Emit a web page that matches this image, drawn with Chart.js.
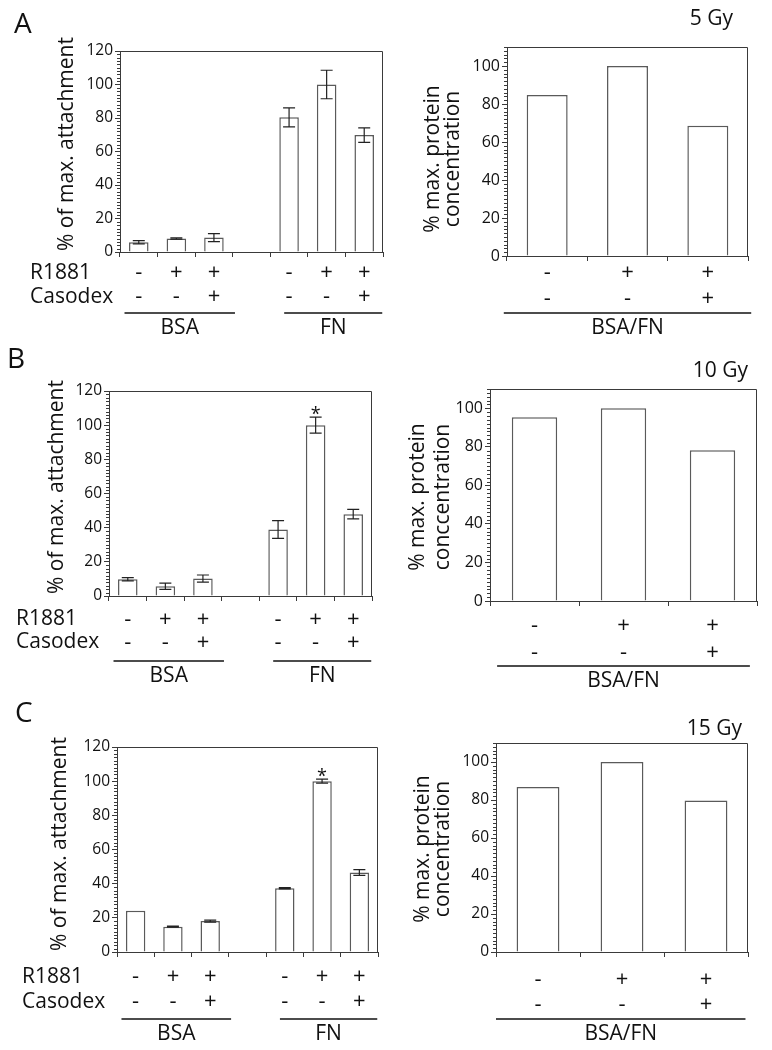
<!DOCTYPE html>
<html>
<head>
<meta charset="utf-8">
<script src="https://cdn.jsdelivr.net/npm/chart.js@4.4.1/dist/chart.umd.min.js"></script>
<style>
  body { margin: 0; background: #fff; width: 772px; height: 1050px; position: relative; overflow: hidden; }
  canvas { position: absolute; }
</style>
</head>
<body>
<canvas id="attA" width="400" height="340" style="left:0;top:0"></canvas>
<canvas id="protA" width="372" height="340" style="left:400px;top:0"></canvas>
<canvas id="attB" width="400" height="350" style="left:0;top:340px"></canvas>
<canvas id="protB" width="372" height="350" style="left:400px;top:340px"></canvas>
<canvas id="attC" width="400" height="360" style="left:0;top:690px"></canvas>
<canvas id="protC" width="372" height="360" style="left:400px;top:690px"></canvas>
<script>
// treatment rows (left panels: BSA x3, gap, FN x3)
const r1881 = ['-', '+', '+', '', '-', '+', '+'];
const casodex = ['-', '-', '+', '', '-', '-', '+'];
const r1881Prot = ['-', '+', '+'];
const casodexProt = ['-', '-', '+'];

// % of max. attachment, mean and error
const attach5 = [5.8, 8.0, 8.6, null, 80.4, 100, 69.8];
const attach5Err = [1.0, 0.4, 2.4, null, 5.7, 8.5, 4.3];
const attach10 = [9.8, 5.7, 10.2, null, 38.9, 100, 47.9];
const attach10Err = [1.0, 1.8, 2.1, null, 5.2, 4.7, 2.8];
const attach15 = [24.1, 14.8, 18.1, null, 37.3, 100, 46.5];
const attach15Err = [0, 0.3, 0.6, null, 0.4, 1.2, 1.7];
const sig5 = ['', '', '', '', '', '', ''];
const sig10 = ['', '', '', '', '', '*', ''];
const sig15 = ['', '', '', '', '', '*', ''];

// % max. protein concentration
const protein5 = [84.8, 100, 68.6];
const protein10 = [95.4, 100, 78.2];
const protein15 = [86.8, 100, 79.8];

const doses = ['5 Gy', '10 Gy', '15 Gy'];
const letters = ['A', 'B', 'C'];
const attachGroups = [{ name: 'BSA', from: 0, to: 2 }, { name: 'FN', from: 4, to: 6 }];
const protGroups = [{ name: 'BSA/FN', from: 0, to: 2 }];

const FONT = '"Open Sans", "Noto Sans", sans-serif';
const INK = '#111';
const AXIS = '#3a3a3a';
const ROW_FONT = 22;
Chart.defaults.font.family = FONT;
Chart.defaults.color = INK;

// extra drawing: box, minor ticks, error bars, labels under the axis
const decor = {
  id: 'decor',
  afterDraw(chart, args, o) {
    const ctx = chart.ctx, xs = chart.scales.x, ys = chart.scales.y, a = chart.chartArea;
    ctx.save();
    ctx.strokeStyle = AXIS;
    ctx.lineWidth = 1;
    ctx.beginPath();
    ctx.moveTo(a.left, a.top + 0.5);
    ctx.lineTo(a.right - 0.5, a.top + 0.5);
    ctx.lineTo(a.right - 0.5, a.bottom);
    for (let v = 2; v < ys.max + 0.01; v += 2) {
      if (v % 20 === 0) continue;
      const py = Math.round(ys.getPixelForValue(v)) + 0.5;
      ctx.moveTo(a.left - 3, py);
      ctx.lineTo(a.left, py);
    }
    ctx.stroke();

    // error bars
    const vals = chart.data.datasets[0].data;
    if (o.errors) {
      ctx.strokeStyle = '#222';
      ctx.lineWidth = 1.2;
      ctx.beginPath();
      o.errors.forEach((e, i) => {
        if (!e || vals[i] == null) return;
        const px = xs.getPixelForValue(i);
        const t = ys.getPixelForValue(vals[i] + e), b = ys.getPixelForValue(vals[i] - e);
        ctx.moveTo(px, t); ctx.lineTo(px, b);
        ctx.moveTo(px - o.cap, t); ctx.lineTo(px + o.cap, t);
        ctx.moveTo(px - o.cap, b); ctx.lineTo(px + o.cap, b);
      });
      ctx.stroke();
    }
    // significance marks
    ctx.fillStyle = INK;
    if (o.sig) {
      ctx.font = '18px ' + FONT;
      ctx.textAlign = 'center';
      ctx.textBaseline = 'alphabetic';
      o.sig.forEach((s, i) => {
        if (!s) return;
        const top = ys.getPixelForValue(vals[i] + (o.errors ? o.errors[i] : 0));
        ctx.fillText(s, xs.getPixelForValue(i), top + 3);
      });
    }

    // panel letter and dose
    if (o.letter) {
      ctx.font = '28px ' + FONT;
      ctx.textAlign = 'left';
      ctx.fillText(o.letter, o.letterPos[0], o.letterPos[1]);
    }
    if (o.dose) {
      ctx.font = '21px ' + FONT;
      ctx.textAlign = 'right';
      ctx.fillText(o.dose, o.dosePos[0], o.dosePos[1]);
    }

    // y title
    ctx.save();
    ctx.translate(o.title.x, o.title.y);
    ctx.rotate(-Math.PI / 2);
    ctx.font = o.title.size + 'px ' + FONT;
    ctx.textAlign = 'center';
    ctx.textBaseline = 'middle';
    const n = o.title.lines.length;
    o.title.lines.forEach((l, i) => ctx.fillText(l, 0, (i - (n - 1) / 2) * o.title.gap));
    ctx.restore();

    // row names (R1881 / Casodex)
    const tf = xs.options.ticks.font;
    const lh = tf.size * tf.lineHeight;
    const row0 = xs.top + xs.options.grid.tickLength + xs.options.ticks.padding + lh / 2;
    if (o.rowNames) {
      ctx.font = '21px ' + FONT;
      ctx.textAlign = 'left';
      ctx.textBaseline = 'middle';
      o.rowNames.forEach((r, i) => ctx.fillText(r, o.rowNameX, row0 + i * lh));
    }

    // group lines and names
    const slot = (a.right - a.left) / chart.data.labels.length;
    ctx.strokeStyle = '#111';
    ctx.lineWidth = 1.6;
    ctx.font = '21px ' + FONT;
    ctx.textAlign = 'center';
    ctx.textBaseline = 'middle';
    o.groups.forEach((g, k) => {
      const pad = o.groupPads[k];
      const x0 = xs.getPixelForValue(g.from) - slot * pad[0];
      const x1 = xs.getPixelForValue(g.to) + slot * pad[1];
      ctx.beginPath();
      ctx.moveTo(x0, o.groupY);
      ctx.lineTo(x1, o.groupY);
      ctx.stroke();
      ctx.fillText(g.name, (x0 + x1) / 2, o.groupY + 15);
    });
    ctx.restore();
  }
};

function makePanel(id, p) {
  const yW = 50, xH = 70;
  return new Chart(document.getElementById(id), {
    type: 'bar',
    data: {
      labels: p.rows[0].map((r, i) => [r, p.rows[1][i]]),
      datasets: [{
        data: p.values,
        backgroundColor: '#fff',
        borderColor: '#5a5a5a',
        borderWidth: 1.5,
        barPercentage: p.barPct,
        categoryPercentage: 1
      }]
    },
    options: {
      responsive: false,
      animation: false,
      devicePixelRatio: 1,
      events: [],
      layout: { padding: { left: p.area[0] - yW, right: p.w - p.area[1], top: p.area[2], bottom: p.h - p.area[3] - xH } },
      plugins: { legend: { display: false }, tooltip: { enabled: false }, decor: p.decor },
      scales: {
        x: {
          afterFit: s => { s.height = xH; },
          grid: { display: true, drawOnChartArea: false, tickLength: 5, color: AXIS, offset: true },
          border: { display: true, color: AXIS, width: 1 },
          ticks: { autoSkip: false, maxRotation: 0, padding: p.xPad, color: INK, font: { size: ROW_FONT, lineHeight: p.rowGap / ROW_FONT } }
        },
        y: {
          min: 0,
          max: p.max,
          afterFit: s => { s.width = yW; },
          afterBuildTicks: s => { s.ticks = s.ticks.filter(t => t.value % 20 === 0); },
          grid: { display: true, drawOnChartArea: false, tickLength: 5, color: AXIS },
          border: { display: true, color: AXIS, width: 1 },
          ticks: { stepSize: 20, padding: 2, color: INK, font: { size: p.tickSize } }
        }
      }
    },
    plugins: [decor]
  });
}

const attachData = [[attach5, attach5Err, sig5], [attach10, attach10Err, sig10], [attach15, attach15Err, sig15]];
const protData = [protein5, protein10, protein15];

// layout of each panel (canvas coords)
const leftLayout = [
  { id: 'attA', h: 340, area: [120, 383, 51, 252], xPad: 4, rowGap: 24, letterPos: [14, 33], title: [67, 144], rowNameX: 30, groupY: 313 },
  { id: 'attB', h: 350, area: [109, 372, 51, 256], xPad: 7, rowGap: 23, letterPos: [7, 28], title: [57, 147], rowNameX: 16, groupY: 321 },
  { id: 'attC', h: 360, area: [117, 378, 57, 262], xPad: 7.5, rowGap: 25, letterPos: [15, 32], title: [60, 154], rowNameX: 22, groupY: 329 }
];
const rightLayout = [
  { id: 'protA', h: 340, area: [107, 348, 47, 256], xPad: -1, rowGap: 26, dosePos: [333, 25], title: [43, 159], gap: 20, tickSize: 16, groupY: 313, pads: [0.54, 0.54], yLines: ['% max. protein', 'concentration'] },
  { id: 'protB', h: 350, area: [90, 357, 49, 261], xPad: 6.5, rowGap: 27, dosePos: [348, 37], title: [31, 157], gap: 25, tickSize: 16, groupY: 326, pads: [0.42, 0.42], yLines: ['% max. protein', 'conccentration'] },
  { id: 'protC', h: 360, area: [96, 348, 53, 262], xPad: 10.5, rowGap: 25, dosePos: [342, 45], title: [33, 159], gap: 20, tickSize: 15.5, groupY: 329, pads: [0.5, 0.47], yLines: ['% max. protein', 'concentration'] }
];

leftLayout.forEach((L, k) => {
  makePanel(L.id, {
    w: 400, h: L.h, area: L.area, xPad: L.xPad, rowGap: L.rowGap,
    rows: [r1881, casodex], values: attachData[k][0], max: 120, barPct: 0.52, tickSize: 15.5,
    decor: {
      errors: attachData[k][1], sig: attachData[k][2], cap: 6,
      letter: letters[k], letterPos: L.letterPos,
      title: { x: L.title[0], y: L.title[1], size: 21, gap: 0, lines: ['% of max. attachment'] },
      rowNames: ['R1881', 'Casodex'], rowNameX: L.rowNameX,
      groups: attachGroups, groupPads: [[0.38, 0.56], [0.13, 0.48]], groupY: L.groupY
    }
  });
});

rightLayout.forEach((R, k) => {
  makePanel(R.id, {
    w: 372, h: R.h, area: R.area, xPad: R.xPad, rowGap: R.rowGap,
    rows: [r1881Prot, casodexProt], values: protData[k], max: 110, barPct: 0.51, tickSize: R.tickSize,
    decor: {
      dose: doses[k], dosePos: R.dosePos,
      title: { x: R.title[0], y: R.title[1], size: 21, gap: R.gap, lines: R.yLines },
      groups: protGroups, groupPads: [R.pads], groupY: R.groupY
    }
  });
});
</script>
</body>
</html>
